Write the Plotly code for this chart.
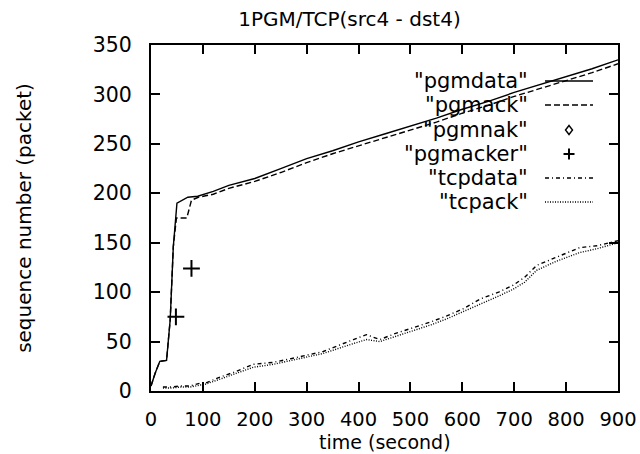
import plotly.graph_objects as go

# PGM data / ack sequence numbers over time
pgm_t = [0, 8, 17, 30, 37, 43, 50, 71, 90, 120, 150, 200, 250, 300, 350, 400,
         450, 500, 550, 600, 650, 700, 750, 800, 850, 900]
pgmdata = [5, 18, 30, 31, 72, 146, 190, 196, 197, 202, 208, 215, 225, 235, 243,
           252, 260, 268, 276, 285, 293, 302, 310, 318, 326, 335]

pgmack_t = [0, 8, 17, 30, 37, 43, 49, 69, 78, 91, 120, 150, 200, 250, 300, 350,
            400, 450, 500, 550, 600, 650, 700, 750, 800, 850, 900]
pgmack = [5, 18, 30, 31, 72, 146, 175, 175, 193, 196, 199, 205, 212, 221, 231,
          240, 248, 256, 264, 272, 281, 289, 298, 306, 314, 322, 331]

# NAKs (none observed) and ACKer changes
pgmnak_t = []
pgmnak = []
pgmacker_t = [48, 78]
pgmacker = [75, 124]

# TCP flow
tcp_t = [23, 40, 56, 75, 95, 100, 133, 160, 197, 236, 281, 332, 390, 415, 441,
         470, 505, 540, 570, 601, 634, 670, 698, 720, 743, 780, 826, 860, 900]
tcpdata = [4, 4, 5, 5, 8, 7, 14, 19, 27, 29, 34, 40, 52, 57, 52, 58, 64, 70, 76,
           83, 93, 100, 107, 115, 127, 135, 145, 147, 152]
tcpack = [3, 3, 4, 4, 6, 6, 12, 17, 24, 27, 32, 38, 48, 52, 50, 55, 61, 67, 73,
          80, 88, 96, 103, 110, 122, 131, 140, 144, 150]

x_ticks = [0, 100, 200, 300, 400, 500, 600, 700, 800, 900]
y_ticks = [0, 50, 100, 150, 200, 250, 300, 350]

legend_names = ['"pgmdata"', '"pgmack"', '"pgmnak"', '"pgmacker"', '"tcpdata"', '"tcpack"']

FONT = "DejaVu Sans"
BLACK = "black"
LW = 1.4
DASH_ACK = "6px,3px"
DASH_TCPDATA = "4px,3px,1px,3px"
DASH_TCPACK = "1px,1.5px"

fig = go.Figure()
fig.add_trace(go.Scatter(x=pgm_t, y=pgmdata, mode="lines",
                         line=dict(color=BLACK, width=LW), name=legend_names[0]))
fig.add_trace(go.Scatter(x=pgmack_t, y=pgmack, mode="lines",
                         line=dict(color=BLACK, width=LW, dash=DASH_ACK), name=legend_names[1]))
fig.add_trace(go.Scatter(x=pgmnak_t, y=pgmnak, mode="markers",
                         marker=dict(symbol="diamond-open", size=8, color=BLACK), name=legend_names[2]))
fig.add_trace(go.Scatter(x=pgmacker_t, y=pgmacker, mode="markers",
                         marker=dict(symbol="cross-thin", size=12, color=BLACK,
                                     line=dict(color=BLACK, width=2)), name=legend_names[3]))
fig.add_trace(go.Scatter(x=tcp_t, y=tcpdata, mode="lines",
                         line=dict(color=BLACK, width=LW, dash=DASH_TCPDATA), name=legend_names[4]))
fig.add_trace(go.Scatter(x=tcp_t, y=tcpack, mode="lines",
                         line=dict(color=BLACK, width=LW, dash=DASH_TCPACK), name=legend_names[5]))

# gnuplot-style key: right-aligned labels with the sample to their right
PLOT_W, PLOT_H = 467, 346
key_text_x = 0.812
key_x0, key_x1 = 0.8437, 0.9465
key_mid = (key_x0 + key_x1) / 2
key_rows = [0.896, 0.8266, 0.7543, 0.685, 0.6156, 0.5462]

shapes = []
annotations = []
for name, yy in zip(legend_names, key_rows):
    annotations.append(dict(x=key_text_x, y=yy, xref="paper", yref="paper",
                            text=name, showarrow=False, xanchor="right", yanchor="middle",
                            font=dict(family=FONT, size=21, color=BLACK)))

# x-axis title placed just under the tick labels
annotations.append(dict(x=0.5, y=-51 / PLOT_H, xref="paper", yref="paper",
                        text="time (second)", showarrow=False, xanchor="center",
                        yanchor="middle", borderpad=0,
                        font=dict(family=FONT, size=19, color=BLACK)))

line_dashes = {0: "solid", 1: DASH_ACK, 4: DASH_TCPDATA, 5: DASH_TCPACK}
for i, d in line_dashes.items():
    shapes.append(dict(type="line", xref="paper", yref="paper",
                       x0=key_x0, x1=key_x1, y0=key_rows[i], y1=key_rows[i],
                       line=dict(color=BLACK, width=LW, dash=d)))

# diamond sample
dx, dy = 3.5 / PLOT_W, 4.5 / PLOT_H
yd = key_rows[2]
shapes.append(dict(type="path", xref="paper", yref="paper",
                   path=f"M {key_mid - dx},{yd} L {key_mid},{yd + dy} L {key_mid + dx},{yd} L {key_mid},{yd - dy} Z",
                   line=dict(color=BLACK, width=1.4)))
# plus sample
px, py = 5.5 / PLOT_W, 5.5 / PLOT_H
yp = key_rows[3]
shapes.append(dict(type="line", xref="paper", yref="paper",
                   x0=key_mid - px, x1=key_mid + px, y0=yp, y1=yp, line=dict(color=BLACK, width=2)))
shapes.append(dict(type="line", xref="paper", yref="paper",
                   x0=key_mid, x1=key_mid, y0=yp - py, y1=yp + py, line=dict(color=BLACK, width=2)))

axis_common = dict(showgrid=False, zeroline=False, showline=True, linecolor=BLACK,
                   linewidth=2, mirror="ticks", ticks="inside", ticklen=9,
                   tickwidth=1.5, tickcolor=BLACK, automargin=False)

fig.update_layout(
    width=640, height=454,
    margin=dict(l=151, r=22, t=45, b=63),
    paper_bgcolor="white", plot_bgcolor="white",
    showlegend=False,
    title=dict(text="1PGM/TCP(src4 - dst4)", x=0.546, xanchor="center",
               y=1 - 19 / 454, yanchor="middle",
               font=dict(family=FONT, size=20, color=BLACK)),
    xaxis=dict(range=[0, 900], tickvals=x_ticks, ticklabelstandoff=10,
               tickfont=dict(family=FONT, size=19.5, color=BLACK),
               **axis_common),
    yaxis=dict(range=[0, 350], tickvals=y_ticks, ticklabelstandoff=13,
               tickfont=dict(family=FONT, size=20.5, color=BLACK),
               title=dict(text="sequence number (packet)", standoff=56,
                          font=dict(family=FONT, size=20, color=BLACK)),
               **axis_common),
    shapes=shapes,
    annotations=annotations,
)

fig.write_html("out.html")
